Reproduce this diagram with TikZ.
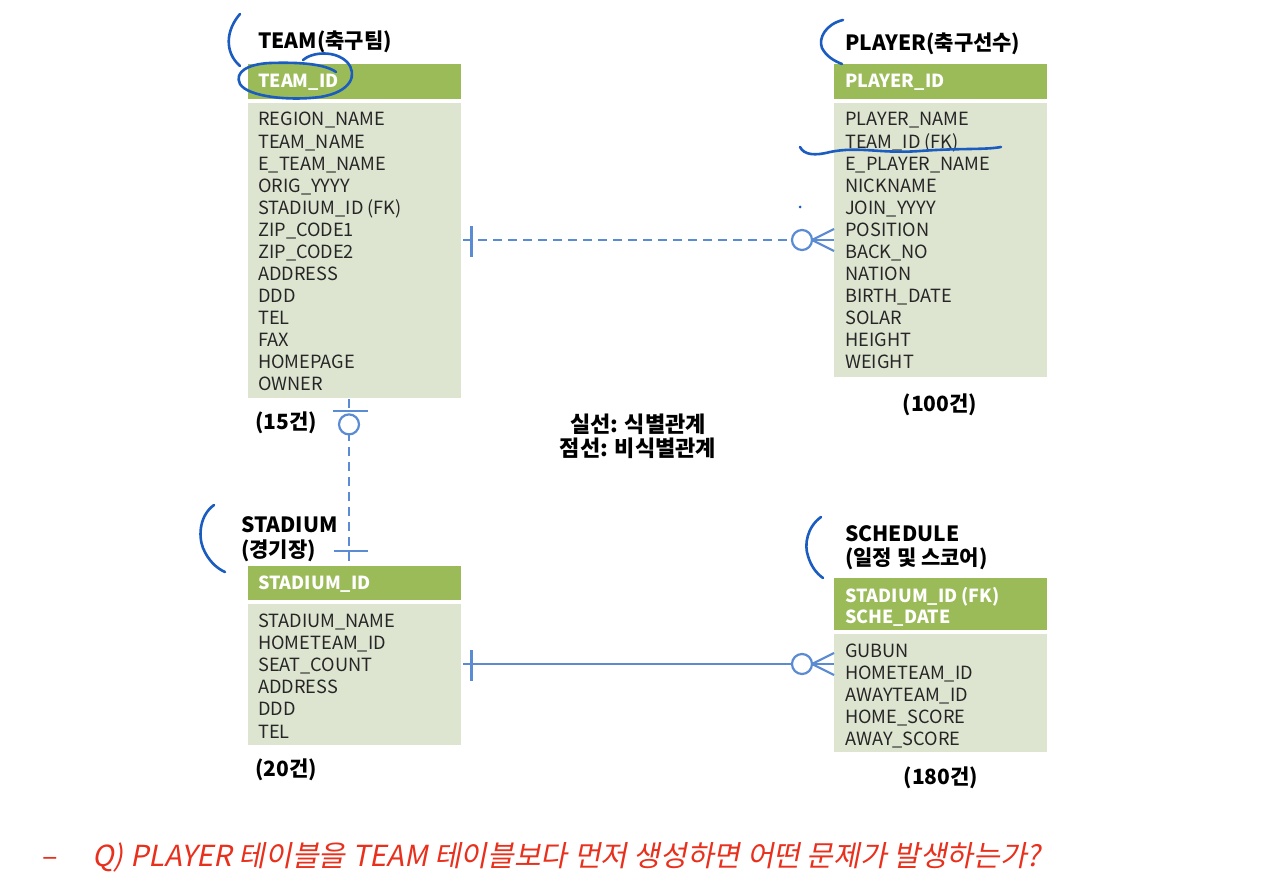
\documentclass[tikz,border=0pt]{standalone}
\usepackage{fontspec}
\setmainfont{Noto Sans CJK KR}
\newfontfamily\qfont{Noto Sans CJK KR}[FakeSlant=0.2]
\definecolor{hdgreen}{HTML}{9BBB59}
\definecolor{bdgreen}{HTML}{DDE5D0}
\definecolor{conblue}{HTML}{5B8BD2}
\definecolor{penblue}{HTML}{1A5CC0}
\definecolor{qred}{HTML}{E8301C}
\tikzset{
  hdbox/.style={fill=hdgreen, draw=none, anchor=north west, inner sep=0pt},
  bdbox/.style={fill=bdgreen, draw=none, anchor=north west, inner sep=0pt},
  rowtxt/.style={anchor=base west, inner sep=0pt, font=\fontsize{18.2}{20}\selectfont, text=black!85},
  hdtxt/.style={anchor=base west, inner sep=0pt, font=\fontsize{18}{20}\selectfont\bfseries, text=white},
  ttl/.style={anchor=base west, inner sep=0pt, font=\fontsize{21}{24}\selectfont\bfseries},
  cnt/.style={anchor=base, inner sep=0pt, font=\fontsize{21}{24}\selectfont\bfseries},
  con/.style={draw=conblue, line width=2.2pt},
  dashcon/.style={con, dash pattern=on 9pt off 6pt},
  pen/.style={draw=penblue, line width=2.6pt, line cap=round, line join=round},
}
\begin{document}
\begin{tikzpicture}[x=1pt,y=-1pt]
\useasboundingbox (0,0) rectangle (1261,882);
\fill[white] (0,0) rectangle (1261,882);

% ---------- TEAM ----------
\node[ttl] (teamttl) at (258,49) {TEAM(축구팀)};
\node[hdbox, minimum width=213pt, minimum height=35pt] (teamhead) at (248,64) {};
\node[hdtxt] (teamhdtxt) at (258,88) {TEAM\_ID};
\node[bdbox, minimum width=213pt, minimum height=295pt] (teambody) at (248,103) {};
\foreach \t [count=\i] in {REGION\_NAME, TEAM\_NAME, E\_TEAM\_NAME, ORIG\_YYYY, STADIUM\_ID (FK), ZIP\_CODE1, ZIP\_CODE2, ADDRESS, DDD, TEL, FAX, HOMEPAGE, OWNER}
  \node[rowtxt] (team-\i) at (258,{126+22.08*(\i-1)}) {\t};
\node[cnt, anchor=base west] (teamcnt) at (255,429) {(15건)};

% ---------- PLAYER ----------
\node[ttl] (playerttl) at (845,51) {PLAYER(축구선수)};
\node[hdbox, minimum width=213pt, minimum height=35pt] (playerhead) at (834,64) {};
\node[hdtxt] (playerhdtxt) at (845,88) {PLAYER\_ID};
\node[bdbox, minimum width=213pt, minimum height=274pt] (playerbody) at (834,103) {};
\foreach \t [count=\i] in {PLAYER\_NAME, TEAM\_ID (FK), E\_PLAYER\_NAME, NICKNAME, JOIN\_YYYY, POSITION, BACK\_NO, NATION, BIRTH\_DATE, SOLAR, HEIGHT, WEIGHT}
  \node[rowtxt] (player-\i) at (845,{126+22.09*(\i-1)}) {\t};
\node[cnt] (playercnt) at (940,411) {(100건)};

% ---------- STADIUM ----------
\node[ttl] (stadttl) at (241,532) {STADIUM};
\node[ttl] (stadttl2) at (241,557) {(경기장)};
\node[hdbox, minimum width=213pt, minimum height=34pt] (stadhead) at (248,566) {};
\node[hdtxt] (stadhdtxt) at (258,589) {STADIUM\_ID};
\node[bdbox, minimum width=213pt, minimum height=141pt] (stadbody) at (248,604) {};
\foreach \t [count=\i] in {STADIUM\_NAME, HOMETEAM\_ID, SEAT\_COUNT, ADDRESS, DDD, TEL}
  \node[rowtxt] (stad-\i) at (258,{627+22.2*(\i-1)}) {\t};
\node[cnt, anchor=base west] (stadcnt) at (255,776) {(20건)};

% ---------- SCHEDULE ----------
\node[ttl] (schedttl) at (845,541) {SCHEDULE};
\node[ttl] (schedttl2) at (845,565) {(일정 및 스코어)};
\node[hdbox, minimum width=213pt, minimum height=52pt] (schedhead) at (834,578) {};
\node[hdtxt] (schedhd1) at (845,602) {STADIUM\_ID (FK)};
\node[hdtxt] (schedhd2) at (845,623) {SCHE\_DATE};
\node[bdbox, minimum width=213pt, minimum height=118pt] (schedbody) at (834,634) {};
\foreach \t [count=\i] in {GUBUN, HOMETEAM\_ID, AWAYTEAM\_ID, HOME\_SCORE, AWAY\_SCORE}
  \node[rowtxt] (sched-\i) at (845,{657+22*(\i-1)}) {\t};
\node[cnt] (schedcnt) at (941,784) {(180건)};

% ---------- legend ----------
\node[cnt, font=\fontsize{22}{24}\selectfont\bfseries] (leg1) at (638,432) {실선: 식별관계};
\node[cnt, font=\fontsize{22}{24}\selectfont\bfseries] (leg2) at (638,456) {점선: 비식별관계};

% ---------- connectors ----------
\coordinate (y240) at (0,240);
\coordinate (y664) at (0,664);
% TEAM - PLAYER (dashed, non-identifying)
\coordinate (tpA) at ([xshift=2pt]teambody.east |- y240);
\coordinate (tpB) at (playerbody.west |- y240);
\coordinate (tpO) at ([xshift=-32pt]tpB);
\draw[dashcon] (tpA) -- ([xshift=-10pt]tpO);
\draw[con] ([xshift=8pt,yshift=14pt]tpA) -- ([xshift=8pt,yshift=-17pt]tpA);
\draw[con] (tpO) circle (10pt);
\draw[con] ([xshift=10pt]tpO) -- (tpB);
\draw[con] ([xshift=10pt]tpO) -- ([yshift=11pt]tpB);
\draw[con] ([xshift=10pt]tpO) -- ([yshift=-11pt]tpB);

% TEAM - STADIUM (dashed, vertical)
\coordinate (x349) at (349,0);
\coordinate (tsA) at (teambody.south -| x349);
\coordinate (tsB) at (stadhead.north -| x349);
\draw[dashcon] ([yshift=-1pt]tsA) -- ([yshift=-13pt]tsA);
\draw[con] ([xshift=-16pt,yshift=-13pt]tsA) -- ([xshift=19pt,yshift=-13pt]tsA);
\draw[con] ([yshift=-26pt]tsA) circle (10pt);
\draw[dashcon, dash phase=3pt] ([yshift=-37pt]tsA) -- (tsB);
\draw[con] ([xshift=-15pt,yshift=15pt]tsB) -- ([xshift=19pt,yshift=15pt]tsB);

% STADIUM - SCHEDULE (solid, identifying)
\coordinate (ssA) at ([xshift=2pt]stadbody.east |- y664);
\coordinate (ssB) at (schedbody.west |- y664);
\coordinate (ssO) at ([xshift=-32pt]ssB);
\draw[con] (ssA) -- ([xshift=-10pt]ssO);
\draw[con] ([xshift=8pt,yshift=14pt]ssA) -- ([xshift=8pt,yshift=-17pt]ssA);
\draw[con] (ssO) circle (10pt);
\draw[con] ([xshift=10pt]ssO) -- (ssB);
\draw[con] ([xshift=10pt]ssO) -- ([yshift=11pt]ssB);
\draw[con] ([xshift=10pt]ssO) -- ([yshift=-11pt]ssB);

% ---------- hand-drawn pen marks ----------
\draw[pen] (240,14) .. controls (226,30) and (224,52) .. (240,66);
\draw[pen] (303,60) .. controls (312,52) and (335,50) .. (347,62)
  .. controls (358,74) and (352,92) .. (320,97)
  .. controls (290,101) and (248,97) .. (240,84)
  .. controls (234,72) and (248,64) .. (270,63)
  .. controls (300,62) and (325,64) .. (336,72);
\draw[pen] (843,20) .. controls (826,24) and (818,38) .. (822,48) .. controls (826,56) and (834,61) .. (842,64);
\draw[pen] (800,147) .. controls (804,155) and (815,156) .. (830,152)
  .. controls (860,146) and (880,154) .. (920,151)
  .. controls (960,148) and (985,150) .. (1001,147);
\fill[penblue] (800,207) circle (1.5pt);
\draw[pen] (214,505) .. controls (200,515) and (198,535) .. (203,548) .. controls (208,560) and (216,568) .. (225,572);
\draw[pen] (821,517) .. controls (807,527) and (804,545) .. (808,556) .. controls (811,566) and (816,573) .. (823,578);

% ---------- question ----------
\node[anchor=base west, inner sep=0pt, text=qred, font=\fontsize{29}{32}\selectfont] (qdash) at (42,866) {–};
\node[anchor=base west, inner sep=0pt, text=qred, font=\qfont\fontsize{29}{32}\selectfont] (qtext) at (92,866) {Q) PLAYER 테이블을 TEAM 테이블보다 먼저 생성하면 어떤 문제가 발생하는가?};
\end{tikzpicture}
\end{document}
